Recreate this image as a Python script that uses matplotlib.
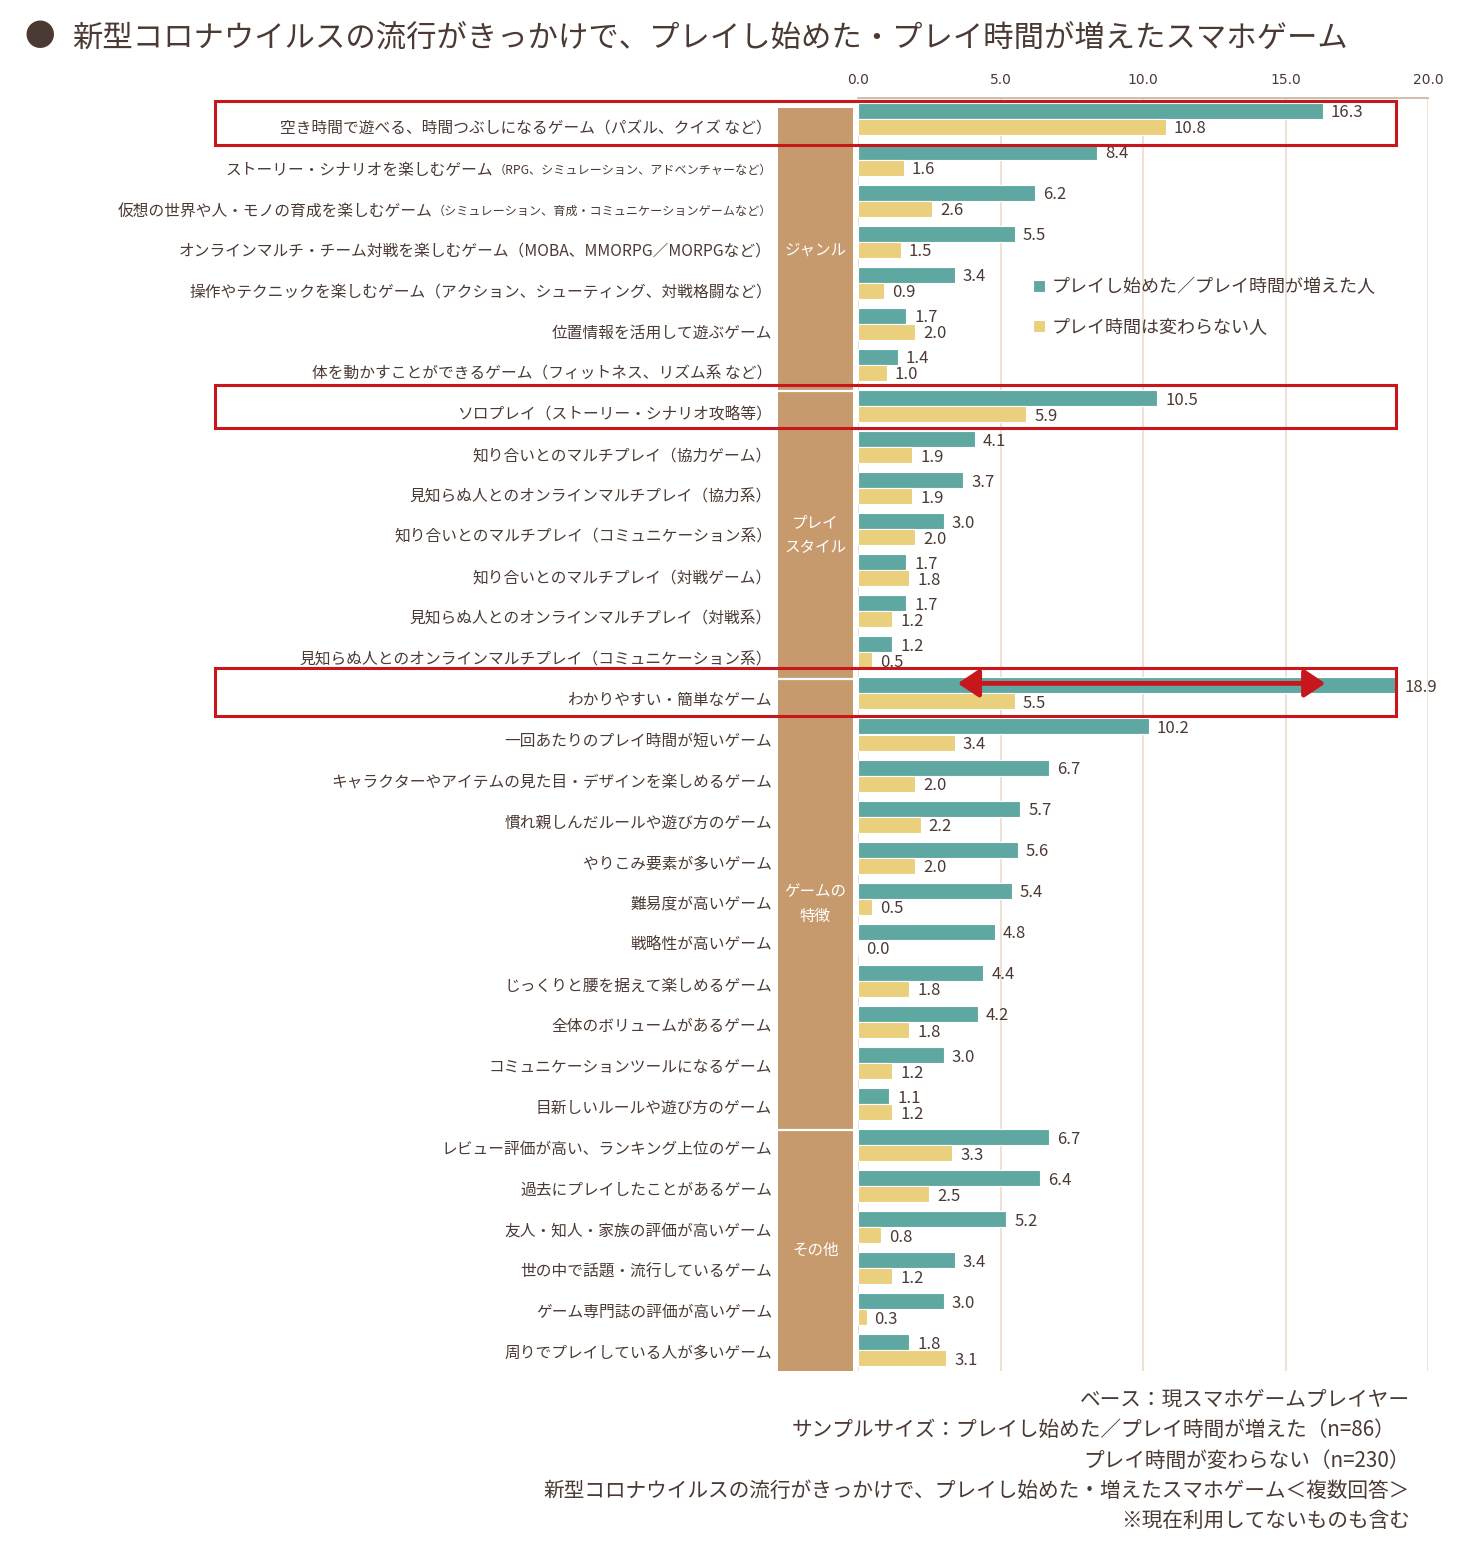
import matplotlib
matplotlib.use('Agg')
import matplotlib.pyplot as plt
from matplotlib.transforms import blended_transform_factory
from matplotlib.patches import Rectangle
import numpy as np

plt.rcParams['font.family'] = ['Noto Sans CJK JP', 'DejaVu Sans']

# ---------------- data ----------------
labels_main = [
    '空き時間で遊べる、時間つぶしになるゲーム（パズル、クイズ など）',
    'ストーリー・シナリオを楽しむゲーム',
    '仮想の世界や人・モノの育成を楽しむゲーム',
    'オンラインマルチ・チーム対戦を楽しむゲーム（MOBA、MMORPG／MORPGなど）',
    '操作やテクニックを楽しむゲーム（アクション、シューティング、対戦格闘など）',
    '位置情報を活用して遊ぶゲーム',
    '体を動かすことができるゲーム（フィットネス、リズム系 など）',
    'ソロプレイ（ストーリー・シナリオ攻略等）',
    '知り合いとのマルチプレイ（協力ゲーム）',
    '見知らぬ人とのオンラインマルチプレイ（協力系）',
    '知り合いとのマルチプレイ（コミュニケーション系）',
    '知り合いとのマルチプレイ（対戦ゲーム）',
    '見知らぬ人とのオンラインマルチプレイ（対戦系）',
    '見知らぬ人とのオンラインマルチプレイ（コミュニケーション系）',
    'わかりやすい・簡単なゲーム',
    '一回あたりのプレイ時間が短いゲーム',
    'キャラクターやアイテムの見た目・デザインを楽しめるゲーム',
    '慣れ親しんだルールや遊び方のゲーム',
    'やりこみ要素が多いゲーム',
    '難易度が高いゲーム',
    '戦略性が高いゲーム',
    'じっくりと腰を据えて楽しめるゲーム',
    '全体のボリュームがあるゲーム',
    'コミュニケーションツールになるゲーム',
    '目新しいルールや遊び方のゲーム',
    'レビュー評価が高い、ランキング上位のゲーム',
    '過去にプレイしたことがあるゲーム',
    '友人・知人・家族の評価が高いゲーム',
    '世の中で話題・流行しているゲーム',
    'ゲーム専門誌の評価が高いゲーム',
    '周りでプレイしている人が多いゲーム',
]
labels_note = {
    1: '（RPG、シミュレーション、アドベンチャーなど）',
    2: '（シミュレーション、育成・コミュニケーションゲームなど）',
}
increased = [16.3, 8.4, 6.2, 5.5, 3.4, 1.7, 1.4,
             10.5, 4.1, 3.7, 3.0, 1.7, 1.7, 1.2,
             18.9, 10.2, 6.7, 5.7, 5.6, 5.4, 4.8, 4.4, 4.2, 3.0, 1.1,
             6.7, 6.4, 5.2, 3.4, 3.0, 1.8]
unchanged = [10.8, 1.6, 2.6, 1.5, 0.9, 2.0, 1.0,
             5.9, 1.9, 1.9, 2.0, 1.8, 1.2, 0.5,
             5.5, 3.4, 2.0, 2.2, 2.0, 0.5, 0.0, 1.8, 1.8, 1.2, 1.2,
             3.3, 2.5, 0.8, 1.2, 0.3, 3.1]
series_names = ['プレイし始めた／プレイ時間が増えた人', 'プレイ時間は変わらない人']
groups = ['ジャンル', 'プレイ\nスタイル', 'ゲームの\n特徴', 'その他']
group_sizes = [7, 7, 11, 6]
highlight_rows = [0, 7, 14]
xticks = [0.0, 5.0, 10.0, 15.0, 20.0]

footnotes = [
    'ベース：現スマホゲームプレイヤー',
    'サンプルサイズ：プレイし始めた／プレイ時間が増えた（n=86）',
    'プレイ時間が変わらない（n=230）',
    '新型コロナウイルスの流行がきっかけで、プレイし始めた・増えたスマホゲーム＜複数回答＞',
    '※現在利用してないものも含む',
]
title = '新型コロナウイルスの流行がきっかけで、プレイし始めた・プレイ時間が増えたスマホゲーム'

# ---------------- style ----------------
TEAL = '#5FA8A1'
YELLOW = '#EACF7C'
BAND = '#C69A6D'
TEXT = '#4B3A33'
GRID = '#EEDCCD'
RED = '#C8161D'

W, H = 1473, 1550
fig = plt.figure(figsize=(W / 100, H / 100), dpi=100)
fig.patch.set_facecolor('white')

ax_l, ax_r, ax_t, ax_b = 858, 1428, 98, 1371
ax = fig.add_axes([ax_l / W, (H - ax_b) / H, (ax_r - ax_l) / W, (ax_b - ax_t) / H])

n = len(labels_main)
y = np.arange(n)
bh = 0.39
ax.barh(y - bh / 2, increased, height=bh, color=TEAL, edgecolor='white', linewidth=0.8,
        label=series_names[0], zorder=3)
ax.barh(y + bh / 2, unchanged, height=bh, color=YELLOW, edgecolor='white', linewidth=0.8,
        label=series_names[1], zorder=3)

ax.set_xlim(0, 20)
ax.set_ylim(n - 0.5, -0.5)
ax.set_xticks(xticks)
ax.set_xticklabels([f'{v:.1f}' for v in xticks], fontsize=10, color=TEXT,
                   family=['DejaVu Sans'])
ax.xaxis.tick_top()
ax.tick_params(axis='x', length=0, pad=8)
ax.set_yticks([])
ax.grid(axis='x', color=GRID, linewidth=1.2, zorder=0)
for s in ['bottom', 'right', 'left']:
    ax.spines[s].set_visible(False)
ax.spines['top'].set_color('#C9B29E')
ax.spines['top'].set_linewidth(1.2)
ax.axvline(0, color=GRID, linewidth=1.2, zorder=1)

# value labels
for i in range(n):
    ax.text(increased[i] + 0.28, i - bh / 2 + 0.05, f'{increased[i]:.1f}', va='center', ha='left',
            fontsize=12, color=TEXT, clip_on=False, zorder=5)
    ax.text(unchanged[i] + 0.28, i + bh / 2 + 0.05, f'{unchanged[i]:.1f}', va='center', ha='left',
            fontsize=12, color=TEXT, clip_on=False, zorder=5)

# category labels
tr_lbl = blended_transform_factory(fig.transFigure, ax.transData)
label_x = 772 / W
fig.canvas.draw()
renderer = fig.canvas.get_renderer()
for i in range(n):
    yy = i + 0.265 - i * 0.0066
    if i in labels_note:
        t_small = fig.text(label_x, yy, labels_note[i], transform=tr_lbl, ha='right', va='center',
                           fontsize=8.7, color=TEXT)
        bb = t_small.get_window_extent(renderer=renderer)
        fig.text(bb.x0 / W, yy, labels_main[i], transform=tr_lbl, ha='right', va='center',
                 fontsize=11.3, color=TEXT)
    else:
        fig.text(label_x, yy, labels_main[i], transform=tr_lbl, ha='right', va='center',
                 fontsize=11.3, color=TEXT)

# group band
tr_band = blended_transform_factory(ax.transAxes, ax.transData)
bx0 = (778 - ax_l) / (ax_r - ax_l)
bx1 = (853 - ax_l) / (ax_r - ax_l)
bounds = [-0.25] + list(np.cumsum(group_sizes) - 0.5 + 0.14)
bounds[-1] = n - 0.5
for g, name in enumerate(groups):
    top, bot = bounds[g], bounds[g + 1]
    ax.add_patch(Rectangle((bx0, top), bx1 - bx0, bot - top, transform=tr_band,
                           facecolor=BAND, edgecolor='none', clip_on=False, zorder=2))
    ax.text((bx0 + bx1) / 2, (top + bot) / 2, name, transform=tr_band, ha='center', va='center',
            color='white', fontsize=11.2, linespacing=1.6, clip_on=False, zorder=4)
for b in bounds[1:-1]:
    ax.plot([bx0, bx1], [b, b], transform=tr_band, color='white', lw=1.6,
            clip_on=False, zorder=3)

# highlight boxes
rx0 = (215 - ax_l) / (ax_r - ax_l)
rx1 = (1396 - ax_l) / (ax_r - ax_l)
box_extent = {0: (-0.43, 0.645), 7: (-0.51, 0.53), 14: (-0.62, 0.55)}
for r in highlight_rows:
    t0, t1 = box_extent[r]
    ax.add_patch(Rectangle((rx0, r + t0), rx1 - rx0, t1 - t0, transform=tr_band,
                           facecolor='none', edgecolor=RED, linewidth=2.2,
                           clip_on=False, zorder=6))

# double arrow on the largest bar
ax.annotate('', xy=(16.4, 14 - bh / 2 - 0.05), xytext=(3.5, 14 - bh / 2 - 0.05),
            arrowprops=dict(arrowstyle='<|-|>,head_length=0.45,head_width=0.3',
                            color=RED, lw=3.5, mutation_scale=28, shrinkA=0, shrinkB=0),
            zorder=7)

# legend
leg = ax.legend(loc='upper left',
                bbox_to_anchor=((1033 - ax_l) / (ax_r - ax_l), (ax_b - 278) / (ax_b - ax_t)),
                frameon=False, fontsize=13, handlelength=0.65, handleheight=0.65,
                handletextpad=0.4, labelspacing=1.25, borderpad=0, borderaxespad=0)
for t in leg.get_texts():
    t.set_color(TEXT)

# title
fig.text(40 / W, 1 - 38 / H, '●', ha='center', va='center', fontsize=22, color='#4B3A33')
fig.text(72 / W, 1 - 38 / H, title, ha='left', va='center', fontsize=21.85, color=TEXT)

# footnotes
fy = [1400, 1430, 1461, 1491, 1521]
fx = [1410, 1395, 1410, 1410, 1410]
for t, yy, xx in zip(footnotes, fy, fx):
    fig.text(xx / W, 1 - yy / H, t, ha='right', va='center', fontsize=14.9, color=TEXT)

fig.savefig('out.png', dpi=100, facecolor='white')
